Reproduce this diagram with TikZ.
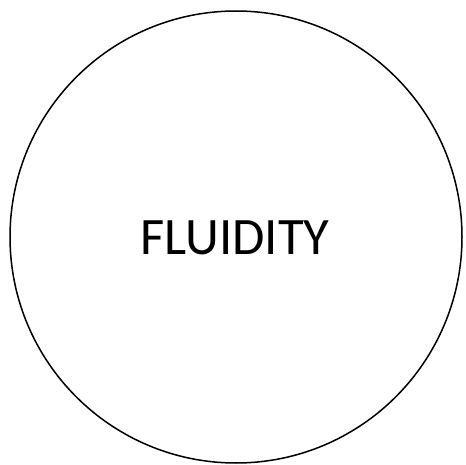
\documentclass[tikz,border=0pt]{standalone}
\usepackage{fontspec}
\setmainfont{Carlito}
\begin{document}
\begin{tikzpicture}[x=1pt,y=-1pt]
\useasboundingbox (0,0) rectangle (466,465);
\tikzset{ring/.style={draw=black,line width=1.5pt,circle,minimum size=452pt,inner sep=0pt}}
\node[ring] (c) at (236,237) {};
\node[font=\fontsize{52.6}{56}\selectfont,inner sep=0pt] (t) at (235,238) {FLUIDITY};
\end{tikzpicture}
\end{document}
